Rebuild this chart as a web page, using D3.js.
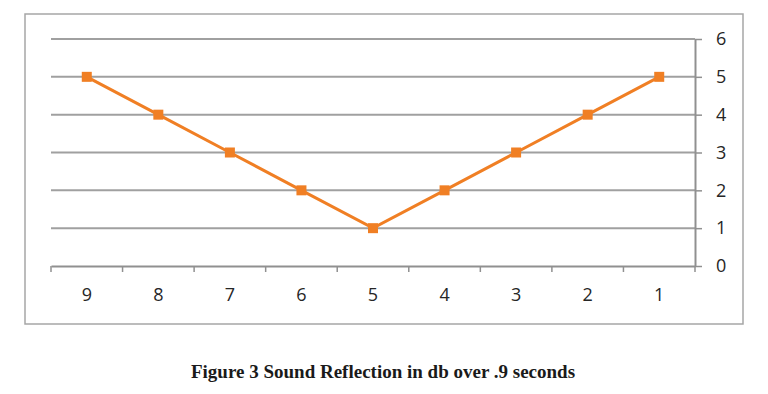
<!DOCTYPE html>
<html>
<head>
<meta charset="utf-8">
<script src="https://cdn.jsdelivr.net/npm/d3@7"></script>
<style>
  body { margin:0; background:#fff; }
</style>
</head>
<body>
<div id="chart"></div>
<script>
// data
var categories = ["9", "8", "7", "6", "5", "4", "3", "2", "1"];
var values = [5, 4, 3, 2, 1, 2, 3, 4, 5];
var yTicks = [0, 1, 2, 3, 4, 5, 6];
var caption = "Figure 3 Sound Reflection in db over .9 seconds";

var W = 768, H = 394;
var margin = { left:51, right:73, top:39, bottom:128 };
var width = W - margin.left - margin.right,
    height = H - margin.top - margin.bottom;

var svg = d3.select("#chart")
  .append("svg")
    .attr("width", W)
    .attr("height", H);

// outer chart frame
svg.append("rect")
  .attr("x", 25).attr("y", 14)
  .attr("width", 718).attr("height", 310)
  .attr("fill", "none")
  .attr("stroke", "#a6a6a6")
  .attr("stroke-width", 1.5);

var g = svg.append("g")
  .attr("transform", "translate(" + margin.left + "," + margin.top + ")");

var x = d3.scaleBand()
  .domain(categories)
  .range([0, width]);

var y = d3.scaleLinear()
  .domain([0, 6])
  .range([height, 0]);

// gridlines
g.selectAll(".grid")
  .data(yTicks.filter(function(d){ return d > 0; }))
  .enter()
  .append("line")
    .attr("class", "grid")
    .attr("x1", 0).attr("x2", width)
    .attr("y1", function(d){ return y(d); })
    .attr("y2", function(d){ return y(d); })
    .attr("stroke", "#a0a0a0")
    .attr("stroke-width", 2);

// x axis
var xAxis = g.append("g")
  .attr("transform", "translate(0," + height + ")")
  .call(d3.axisBottom(x).tickSize(0).tickPadding(22));
xAxis.select(".domain").attr("stroke", "#909090").attr("stroke-width", 2);
xAxis.selectAll("text")
  .attr("font-family", "Open Sans, Liberation Sans, sans-serif")
  .attr("font-size", "18px")
  .attr("fill", "#262626");

// category tick marks on band edges
g.selectAll(".xtick")
  .data(categories.concat(["end"]))
  .enter()
  .append("line")
    .attr("class", "xtick")
    .attr("x1", function(d, i){ return i * x.bandwidth(); })
    .attr("x2", function(d, i){ return i * x.bandwidth(); })
    .attr("y1", height)
    .attr("y2", height + 6)
    .attr("stroke", "#909090")
    .attr("stroke-width", 1.5);

// y axis on the right
var yAxis = g.append("g")
  .attr("transform", "translate(" + width + ",0)")
  .call(d3.axisRight(y).tickValues(yTicks).tickFormat(d3.format("d"))
    .tickSize(7).tickPadding(14).tickSizeOuter(0));
yAxis.select(".domain").attr("stroke", "#909090").attr("stroke-width", 2);
yAxis.selectAll(".tick line").attr("stroke", "#909090").attr("stroke-width", 1.5);
yAxis.selectAll("text")
  .attr("font-family", "Open Sans, Liberation Sans, sans-serif")
  .attr("font-size", "18px")
  .attr("fill", "#262626");

// series line
var pts = categories.map(function(c, i){ return { cat:c, val:values[i] }; });
var line = d3.line()
  .x(function(d){ return x(d.cat) + x.bandwidth() / 2; })
  .y(function(d){ return y(d.val); });

g.append("path")
  .datum(pts)
  .attr("d", line)
  .attr("fill", "none")
  .attr("stroke", "#f07f24")
  .attr("stroke-width", 3);

g.selectAll(".marker")
  .data(pts)
  .enter()
  .append("rect")
    .attr("class", "marker")
    .attr("x", function(d){ return x(d.cat) + x.bandwidth() / 2 - 5; })
    .attr("y", function(d){ return y(d.val) - 5; })
    .attr("width", 10)
    .attr("height", 10)
    .attr("fill", "#f07f24");

// caption
svg.append("text")
  .attr("x", 383)
  .attr("y", 378)
  .attr("text-anchor", "middle")
  .attr("font-family", "Liberation Serif, Times New Roman, serif")
  .attr("font-weight", "bold")
  .attr("font-size", "19px")
  .attr("fill", "#1a1a1a")
  .text(caption);
</script>
</body>
</html>
